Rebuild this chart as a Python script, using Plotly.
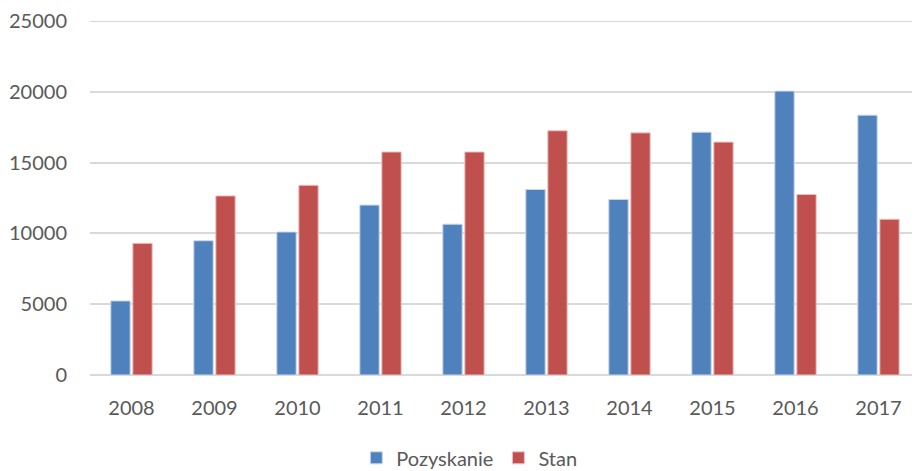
import plotly.graph_objects as go

years = ["2008", "2009", "2010", "2011", "2012", "2013", "2014", "2015", "2016", "2017"]
pozyskanie = [5230, 9480, 10100, 12000, 10650, 13100, 12400, 17150, 20050, 18350]
stan = [9300, 12650, 13400, 15750, 15750, 17250, 17100, 16450, 12750, 11000]
y_ticks = [0, 5000, 10000, 15000, 20000, 25000]

font = "Lato"
txt = "#595959"
grid = "#D9D9D9"

fig = go.Figure()
fig.add_trace(go.Bar(x=years, y=pozyskanie, name="Pozyskanie",
                     marker=dict(color="#4F81BD", line=dict(color="#C9D7EA", width=1))))
fig.add_trace(go.Bar(x=years, y=stan, name="Stan",
                     marker=dict(color="#C0504D", line=dict(color="#EBC3C2", width=1))))

# page body has an 8px margin, so the figure is 8px smaller and margins shifted
fig.update_layout(
    width=912, height=463,
    margin=dict(l=82, r=0, t=13, b=96, autoexpand=False),
    plot_bgcolor="white", paper_bgcolor="white",
    barmode="group", bargap=0.47, bargroupgap=0.12,
    font=dict(family=font, size=20, color=txt),
    showlegend=True,
    legend=dict(orientation="h", x=0.457, xanchor="center", y=-0.234, yanchor="middle",
                font=dict(size=20, color=txt), itemwidth=30, traceorder="normal"),
)
# top gridline at the last tick (Plotly omits a gridline on the plot edge)
fig.add_shape(type="line", xref="paper", x0=0, x1=1, yref="y",
              y0=y_ticks[-1], y1=y_ticks[-1], line=dict(color=grid, width=2), layer="below")
fig.update_yaxes(range=[0, 25000], tickvals=y_ticks, ticktext=[str(v) for v in y_ticks],
                 showgrid=True, gridcolor=grid, gridwidth=2,
                 zeroline=True, zerolinecolor=grid, zerolinewidth=2,
                 showline=False, ticks="", ticklabelstandoff=22, automargin=False,
                 tickfont=dict(size=20, color=txt))
fig.update_xaxes(showgrid=False, showline=False, ticks="", ticklabelstandoff=19,
                 automargin=False, tickfont=dict(size=20, color=txt))

fig.write_html("out.html")
